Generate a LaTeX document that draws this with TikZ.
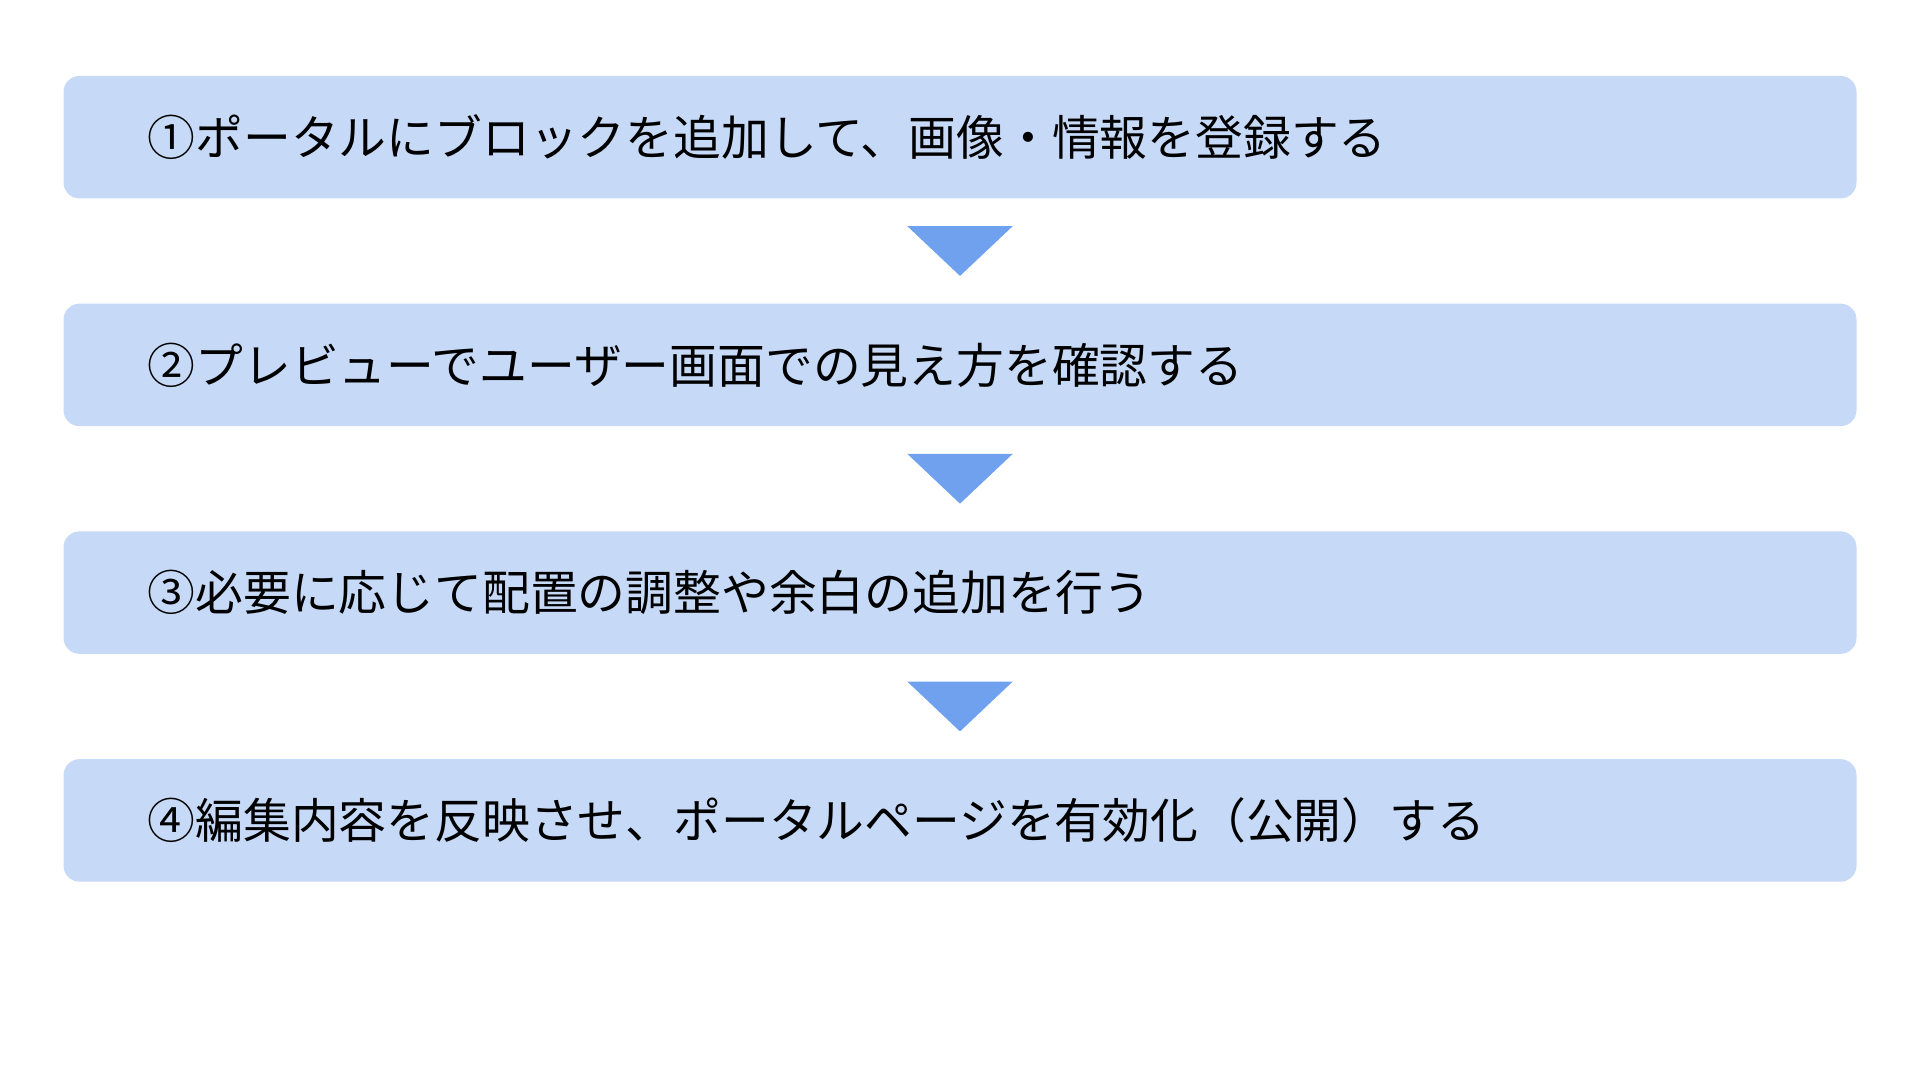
\documentclass[tikz,border=0pt]{standalone}
\usepackage{fontspec}
\setmainfont{Noto Sans CJK JP}
\usetikzlibrary{positioning,calc}
\definecolor{boxblue}{HTML}{C6DAF8}
\definecolor{arrowblue}{HTML}{6FA1EE}

\begin{document}
\begin{tikzpicture}[
stepbox/.style={rectangle, rounded corners=0.16cm, fill=boxblue, minimum width=17.93cm, minimum height=1.225cm, inner sep=0pt},
steptext/.style={anchor=west, font=\fontsize{13.6pt}{16pt}\selectfont, inner sep=0pt},
]
\useasboundingbox (0,0) rectangle (19.2,-10.8);
%Boxes
\node[stepbox](Add) at (9.60,-1.372){};
\node[stepbox](Preview) at (9.60,-3.649){};
\node[stepbox](Adjust) at (9.60,-5.926){};
\node[stepbox](Publish) at (9.60,-8.204){};

%Texts
\node[steptext](AddText) at (1.47,-1.372){①ポータルにブロックを追加して、画像・情報を登録する};
\node[steptext](PreviewText) at (1.47,-3.649){②プレビューでユーザー画面での見え方を確認する};
\node[steptext](AdjustText) at (1.47,-5.926){③必要に応じて配置の調整や余白の追加を行う};
\node[steptext](PublishText) at (1.47,-8.204){④編集内容を反映させ、ポータルページを有効化（公開）する};

%Arrows
\foreach \a/\b in {Add/Preview, Preview/Adjust, Adjust/Publish}{
  \fill[arrowblue] ($(\a.south)+(-0.527,-0.27)$) -- ($(\a.south)+(0.527,-0.27)$) -- ($(\b.north)+(0,0.27)$) -- cycle;
}
\end{tikzpicture}
\end{document}
